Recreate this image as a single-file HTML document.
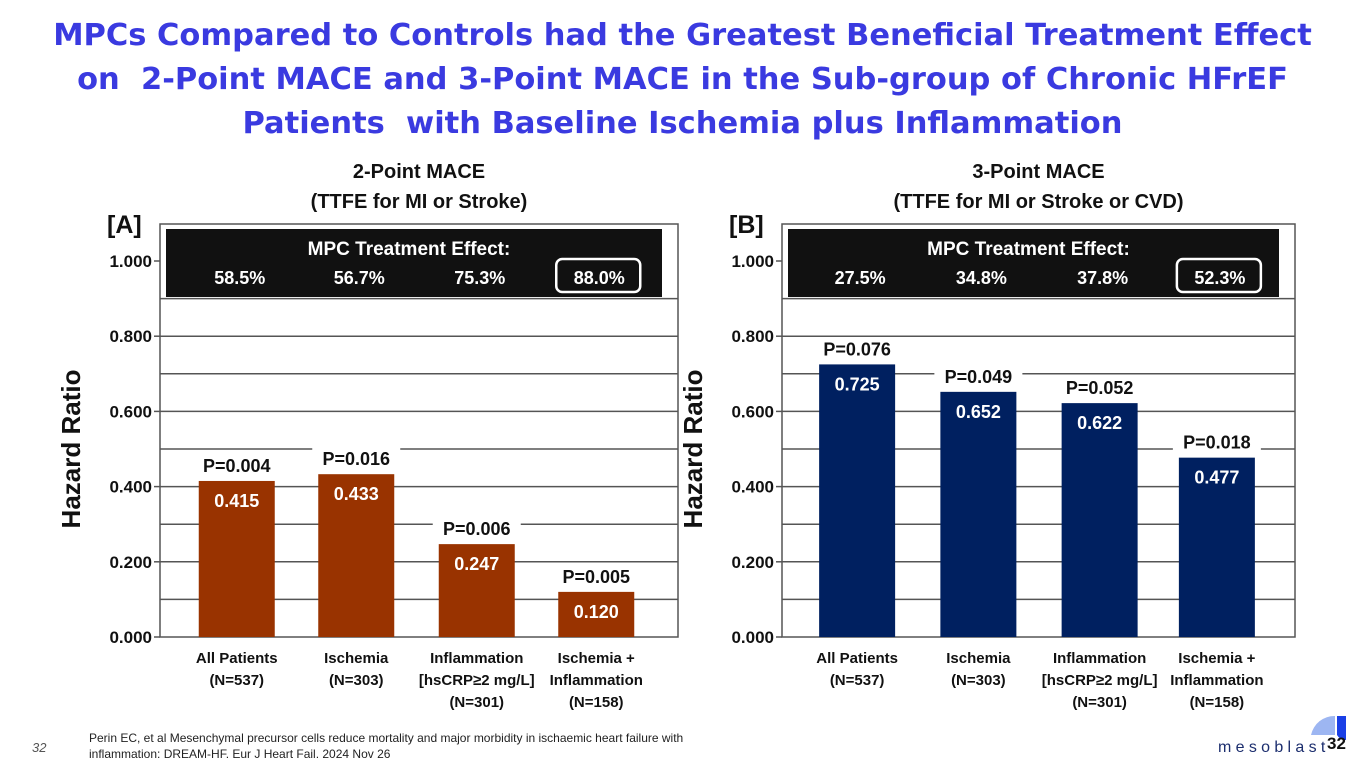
<!DOCTYPE html>
<html><head><meta charset="utf-8"><style>
body{margin:0;width:1365px;height:768px;background:#fff;overflow:hidden;font-family:"Liberation Sans",sans-serif;position:relative}
#title{position:absolute;left:0;top:14px;width:1365px;text-align:center;color:#3a3ae0;font-weight:bold;font-size:30.5px;line-height:44px;font-family:"DejaVu Sans","Liberation Sans",sans-serif;letter-spacing:0px}
svg{position:absolute;left:0;top:0}
.foot{position:absolute;left:89px;top:730px;font-size:12px;color:#222;line-height:16px}
.pg{position:absolute;left:32px;top:740px;font-size:13px;font-style:italic;color:#555}
</style></head><body>
<div id="title">MPCs Compared to Controls had the Greatest Beneficial Treatment Effect<br>on&nbsp; 2-Point MACE and 3-Point MACE in the Sub-group of Chronic HFrEF<br>Patients&nbsp; with Baseline Ischemia plus Inflammation</div>
<svg id="chart" width="1365" height="768"></svg>
<div class="pg">32</div>
<div class="foot">Perin EC, et al Mesenchymal precursor cells reduce mortality and major morbidity in ischaemic heart failure with<br>inflammation: DREAM-HF. Eur J Heart Fail. 2024 Nov 26</div>
<svg width="1365" height="768" style="pointer-events:none">
<g>
<path d="M1311 735 A24 24 0 0 1 1335 716 L1335 735 Z" fill="#9db6f2"/>
<path d="M1337 716 L1346 716 L1346 740 A10 10 0 0 1 1337 735 Z" fill="#1a3fe6"/>
<text x="1218" y="752" font-size="16" fill="#1c2e6e" letter-spacing="4.3" font-family="Liberation Sans,sans-serif">mesoblast</text>
<text x="1327" y="749" font-size="17" font-weight="bold" fill="#111">32</text>
</g></svg>
<script>
const categories=["All Patients","Ischemia","Inflammation","Ischemia +"];
const catLine2=["(N=537)","(N=303)","[hsCRP≥2 mg/L]","Inflammation"];
const catLine3=["","","(N=301)","(N=158)"];
const hrA=[0.415,0.433,0.247,0.120];
const pA=["P=0.004","P=0.016","P=0.006","P=0.005"];
const effA=["58.5%","56.7%","75.3%","88.0%"];
const hrB=[0.725,0.652,0.622,0.477];
const pB=["P=0.076","P=0.049","P=0.052","P=0.018"];
const effB=["27.5%","34.8%","37.8%","52.3%"];
const ticks=[0,0.2,0.4,0.6,0.8,1.0];
const grid=[0.1,0.2,0.3,0.4,0.5,0.6,0.7,0.8,0.9];
const NS="http://www.w3.org/2000/svg";
const svg=document.getElementById('chart');
function mk(t,a,txt,parent){const e=document.createElementNS(NS,t);for(const k in a)e.setAttribute(k,a[k]);if(txt!==undefined)e.textContent=txt;(parent||svg).appendChild(e);return e;}
function panel(o){
 const g=mk('g',{});
 
 
 const y=v=>637-v*376;
 const bw=(o.x1-o.x0)/4;
 const xc=i=>o.x0+bw*(i+0.5)+o.off[i];
 mk('rect',{x:o.x0,y:224,width:o.x1-o.x0,height:413,fill:'#fff',stroke:'#555','stroke-width':1.5},undefined,g);
 grid.forEach(v=>{const l=mk('line',{x1:o.x0,x2:o.x1,y1:y(v),y2:y(v),stroke:'#555','stroke-width':1.5},undefined,g);});
 ticks.forEach(v=>{mk('line',{x1:o.x0-6,x2:o.x0,y1:y(v),y2:y(v),stroke:'#555','stroke-width':1.5},undefined,g);const t=mk('text',{x:o.x0-8,y:y(v)+6,'text-anchor':'end','font-size':17,'font-weight':'bold',fill:'#111'},v.toFixed(3),g);});
 const at=mk('text',{transform:`translate(${o.x0-80},${y(0.5)}) rotate(-90)`,'text-anchor':'middle','font-size':26,'font-weight':'bold',fill:'#111'},'Hazard Ratio',g);
 
 const bx=mk('rect',{x:o.x0+6,y:229,width:o.x1-o.x0-22,height:68,fill:'#111'},undefined,g);
 
 mk('text',{x:(o.x0+o.x1)/2-10,y:255,'text-anchor':'middle','font-size':19,'font-weight':'bold',fill:'#fff'},'MPC Treatment Effect:',g);
 o.eff.forEach((e,i)=>{const t=mk('text',{x:xc(i)+3,y:284,'text-anchor':'middle','font-size':18,'font-weight':'bold',fill:'#fff'},e,g);});
 mk('rect',{x:xc(3)-40,y:259,width:84,height:33,rx:6,fill:'none',stroke:'#fff','stroke-width':2.5},undefined,g);
 o.hr.forEach((v,i)=>{
  const b=mk('rect',{x:xc(i)-38,y:y(v),width:76,height:y(0)-y(v),fill:o.color},undefined,g);
  
  mk('rect',{x:xc(i)-44,y:y(v)-27,width:88,height:22,fill:'#fff'},undefined,g);
  const p=mk('text',{x:xc(i),y:y(v)-9,'text-anchor':'middle','font-size':18,'font-weight':'bold',fill:'#111'},o.p[i],g);
  
  const vl=mk('text',{x:xc(i),y:y(v)+26,'text-anchor':'middle','font-size':18,'font-weight':'bold',fill:'#fff'},v.toFixed(3),g);
  
  [categories[i],catLine2[i],catLine3[i]].forEach((s,k)=>{if(!s)return;const t=mk('text',{x:xc(i),y:663+k*22,'text-anchor':'middle','font-size':15,'font-weight':'bold',fill:'#111'},s,g);});
 });
 mk('text',{x:(o.x0+o.x1)/2,y:178,'text-anchor':'middle','font-size':20,'font-weight':'bold',fill:'#111'},o.t1,g);
 mk('text',{x:(o.x0+o.x1)/2,y:208,'text-anchor':'middle','font-size':20,'font-weight':'bold',fill:'#111'},o.t2,g);
 mk('text',{x:o.x0-53,y:233,'font-size':25,'font-weight':'bold',fill:'#111'},o.tag,g);
}
panel({name:'panel-a-2-point-mace',x0:160,x1:678,hr:hrA,p:pA,eff:effA,color:'#993300',off:[12,2,-7,-17],t1:'2-Point MACE',t2:'(TTFE for MI or Stroke)',tag:'[A]'});
panel({name:'panel-b-3-point-mace',x0:782,x1:1295,hr:hrB,p:pB,eff:effB,color:'#002060',off:[11,4,-3,-14],t1:'3-Point MACE',t2:'(TTFE for MI or Stroke or CVD)',tag:'[B]'});
</script>
</body></html>
